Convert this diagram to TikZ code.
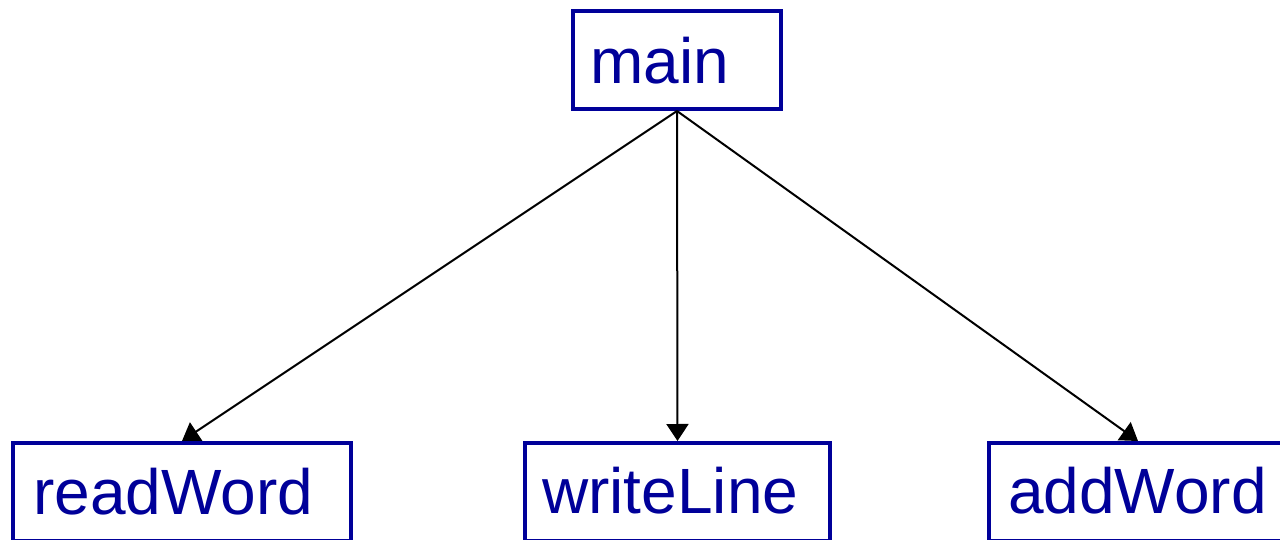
\documentclass[tikz,border=0pt]{standalone}
\usepackage{fontspec}
\setmainfont{Liberation Sans}
\usetikzlibrary{arrows.meta}
\definecolor{boxblue}{HTML}{000099}
\begin{document}
\begin{tikzpicture}[x=1pt,y=-1pt,
  box/.style={draw=boxblue,line width=4pt,rectangle,inner sep=0pt},
  lbl/.style={text=boxblue,inner sep=0pt,anchor=base west,font=\fontsize{64}{72}\selectfont},
  conn/.style={line width=2pt,-{Triangle[length=17pt,width=22pt]}}]
\useasboundingbox (0,0) rectangle (1280,540);
\begin{scope}
\clip (0,0) rectangle (1280,540);
\node[box,minimum width=208pt,minimum height=98pt] (main) at (677,60) {};
\node[box,minimum width=338pt,minimum height=98pt] (readWord) at (182,492) {};
\node[box,minimum width=305pt,minimum height=98pt] (writeLine) at (677.5,492) {};
\node[box,minimum width=298pt,minimum height=98pt] (addWord) at (1138,492) {};
\end{scope}
\node[lbl] (tmain) at (590,84) {main};
\node[lbl] (treadWord) at (33,514) {readWord};
\node[lbl] (twriteLine) at (542,513) {writeLine};
\node[lbl] (taddWord) at (1008,513) {addWord};
\draw[conn] (main.south) -- (readWord.north);
\draw[conn] (main.south) -- (writeLine.north);
\draw[conn] (main.south) -- (addWord.north);
\end{tikzpicture}
\end{document}
